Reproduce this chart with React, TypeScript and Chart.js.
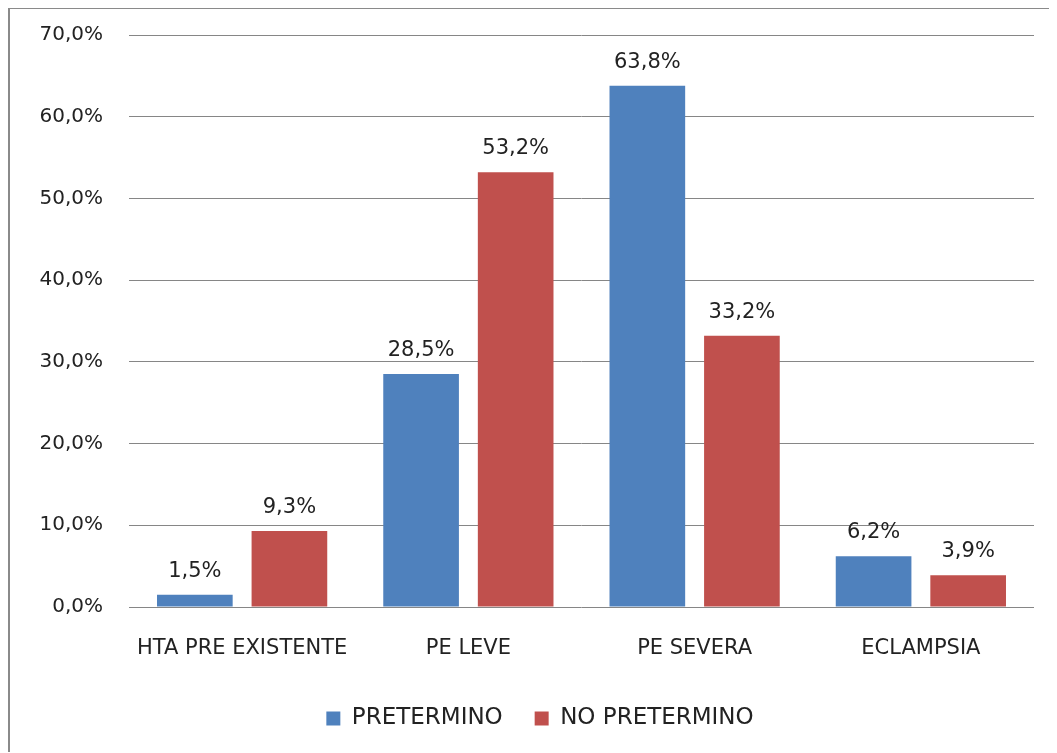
import React, { useEffect, useRef } from "react";
import { Chart, registerables } from "chart.js";

Chart.register(...registerables);

const categories = ["HTA PRE EXISTENTE", "PE LEVE", "PE SEVERA", "ECLAMPSIA"];
const seriesNames = ["PRETERMINO", "NO PRETERMINO"];
const pretermino = [1.5, 28.5, 63.8, 6.2];
const noPretermino = [9.3, 53.2, 33.2, 3.9];
const seriesColors = ["#4F81BD", "#C0504D"];

const fmt = (v: number) => v.toFixed(1).replace(".", ",") + "%";
const FONT = "'DejaVu Sans', sans-serif";

const valueLabels = {
  id: "valueLabels",
  afterDatasetsDraw(chart: any) {
    const ctx = chart.ctx;
    ctx.save();
    ctx.font = `21px ${FONT}`;
    ctx.fillStyle = "#222222";
    ctx.textAlign = "center";
    ctx.textBaseline = "alphabetic";
    chart.data.datasets.forEach((ds: any, i: number) => {
      const meta = chart.getDatasetMeta(i);
      meta.data.forEach((bar: any, j: number) => {
        ctx.fillText(fmt(ds.data[j]), bar.x, bar.y - 18);
      });
    });
    ctx.restore();
  },
};

export default function App() {
  const ref = useRef<HTMLCanvasElement>(null);
  useEffect(() => {
    if (!ref.current) return;
    const chart = new Chart(ref.current, {
      type: "bar",
      data: {
        labels: categories,
        datasets: [
          { label: seriesNames[0], data: pretermino, backgroundColor: seriesColors[0] },
          { label: seriesNames[1], data: noPretermino, backgroundColor: seriesColors[1] },
        ],
      },
      options: {
        responsive: false,
        animation: false,
        categoryPercentage: 0.836,
        barPercentage: 0.8,
        layout: { padding: { top: 26, left: 36, right: 23, bottom: 12 } },
        scales: {
          x: {
            grid: { display: false },
            border: { display: false },
            ticks: { color: "#222222", font: { family: FONT, size: 21 }, padding: 21, maxRotation: 0 },
            afterFit: (s: any) => { s.height = 90; },
          },
          y: {
            min: 0,
            max: 70,
            grid: { color: "#868686", lineWidth: 1, drawTicks: false },
            border: { display: false },
            ticks: {
              stepSize: 10,
              color: "#222222",
              font: { family: FONT, size: 20 },
              padding: 26,
              callback: (v: any) => fmt(Number(v)),
            },
            afterFit: (s: any) => {
              s.width = 83;
              s.paddingTop = 0;
              s.paddingBottom = 0;
              s._computeLabelArea = () => undefined;
            },
          },
        },
        plugins: {
          tooltip: { enabled: false },
          legend: {
            position: "bottom",
            labels: {
              boxWidth: 14,
              boxHeight: 14,
              padding: 10,
              color: "#222222",
              font: { family: FONT, size: 23 },
              generateLabels: (c: any) => {
                const items = (Chart.defaults.plugins.legend.labels as any).generateLabels(c);
                items.forEach((it: any) => { it.lineWidth = 0; });
                items[0].text += "   ";
                return items;
              },
            },
          },
        },
      } as any,
      plugins: [valueLabels],
    });
    return () => chart.destroy();
  }, []);
  return (
    <div
      style={{
        width: 1049,
        height: 745,
        marginTop: -1,
        borderLeft: "2px solid #8a8a8a",
        borderTop: "2px solid #8a8a8a",
        boxSizing: "border-box",
        background: "#ffffff",
      }}
    >
      <canvas ref={ref} width={1047} height={743} style={{ display: "block" }} />
    </div>
  );
}
